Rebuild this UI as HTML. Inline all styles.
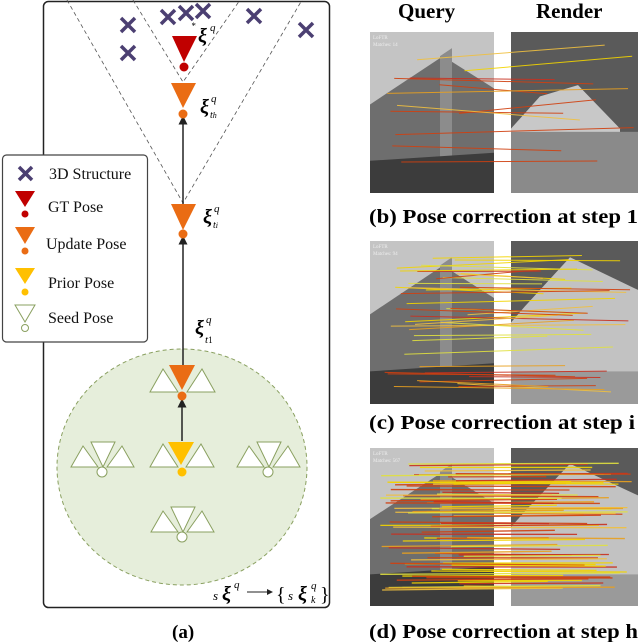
<!DOCTYPE html>
<html><head><meta charset="utf-8"><style>
html,body{margin:0;padding:0;background:#fff;}
svg{display:block;}
text{font-family:"Liberation Serif",serif;}
</style></head><body>
<svg id="s" width="640" height="642" viewBox="0 0 640 642" xmlns="http://www.w3.org/2000/svg">
<defs>
<marker id="ar" markerWidth="6" markerHeight="6" refX="3" refY="3" orient="auto"><path d="M0,0 L6,3 L0,6 z" fill="#222"/></marker>
<g id="fan">
<polygon points="-11,-30 13,-30 1,-5" fill="#fff" stroke="#8aa060" stroke-width="1"/>
<polygon points="-31,-5 -19,-26 -4,-5" fill="#fff" stroke="#8aa060" stroke-width="1"/>
<polygon points="5,-5 20,-26 32,-5" fill="#fff" stroke="#8aa060" stroke-width="1"/>
<circle cx="0" cy="0" r="5" fill="#fff" stroke="#8aa060" stroke-width="1"/>
</g>
</defs>
<rect x="43.5" y="1.5" width="286" height="606" rx="5" fill="#fff" stroke="#222" stroke-width="1.5"/>
<g stroke="#555" stroke-width="0.8" stroke-dasharray="4,3" fill="none">
<path d="M67,0 L183,203 L302,0"/>
<path d="M133,0 L183,82 L240,0"/>
</g>
<g stroke="#4b3f72" stroke-width="3.5">
<path d="M121,18 l14,14 M135,18 l-14,14"/>
<path d="M121,46 l14,14 M135,46 l-14,14"/>
<path d="M161,10 l14,14 M175,10 l-14,14"/>
<path d="M179,6 l14,14 M193,6 l-14,14"/>
<path d="M196,4 l14,14 M210,4 l-14,14"/>
<path d="M247,9 l14,14 M261,9 l-14,14"/>
<path d="M299,23 l14,14 M313,23 l-14,14"/>
</g>
<ellipse cx="182" cy="467" rx="125" ry="118" fill="#e6eedb" stroke="#8aa060" stroke-width="1" stroke-dasharray="4,3"/>
<use href="#fan" x="102" y="472"/>
<use href="#fan" x="268" y="472"/>
<use href="#fan" x="182" y="537"/>
<g fill="#fff" stroke="#8aa060" stroke-width="1">
<polygon points="150,392 163,369 178,392"/><polygon points="187,392 202,369 215,392"/>
<polygon points="150,467 163,444 178,467"/><polygon points="186,467 201,444 214,467"/>
</g>
<g stroke="#222" stroke-width="1.5">
<line x1="183" y1="365" x2="183" y2="240" marker-end="url(#ar)"/>
<line x1="183" y1="204" x2="183" y2="120" marker-end="url(#ar)"/>
<line x1="182" y1="441" x2="182" y2="403" marker-end="url(#ar)"/>
</g>
<polygon points="172,36 197,36 184,62" fill="#c00000"/><circle cx="184" cy="67" r="4.5" fill="#c00000"/>
<polygon points="171,83 196,83 183,108" fill="#ea6c14"/><circle cx="183" cy="114" r="4.5" fill="#ea6c14"/>
<polygon points="171,204 196,204 183,230" fill="#ea6c14"/><circle cx="183" cy="234" r="4.5" fill="#ea6c14"/>
<polygon points="169,365 195,365 182,390" fill="#ea6c14"/><circle cx="182" cy="396" r="4.5" fill="#ea6c14"/>
<polygon points="168,442 194,442 181,465" fill="#ffc000"/><circle cx="182" cy="472" r="4.5" fill="#ffc000"/>
<g font-style="italic" fill="#000">
<text x="191" y="29" font-size="9">*</text>
<text x="198" y="42" font-size="20" font-weight="bold">ξ</text><text x="210" y="31" font-size="11">q</text>
<text x="200" y="113" font-size="20" font-weight="bold">ξ</text><text x="211" y="102" font-size="11">q</text><text x="210" y="118" font-size="10">t<tspan font-size="8">h</tspan></text>
<text x="203" y="223" font-size="20" font-weight="bold">ξ</text><text x="214" y="212" font-size="11">q</text><text x="213" y="228" font-size="10">t<tspan font-size="8">i</tspan></text>
<text x="195" y="334" font-size="20" font-weight="bold">ξ</text><text x="206" y="323" font-size="11">q</text><text x="205" y="343" font-size="11">t<tspan font-size="9" font-style="normal">1</tspan></text>
<text x="213" y="600" font-size="13">s</text><text x="222" y="600" font-size="20" font-weight="bold">ξ</text><text x="234" y="588" font-size="11">q</text>
<text x="276" y="601" font-size="20" font-style="normal">{</text><text x="288" y="600" font-size="13">s</text><text x="298" y="600" font-size="20" font-weight="bold">ξ</text><text x="311" y="589" font-size="11">q</text><text x="311" y="603" font-size="10">k</text><text x="320" y="601" font-size="20" font-style="normal">}</text>
</g>
<line x1="247" y1="592" x2="270" y2="592" stroke="#222" stroke-width="1" marker-end="url(#ar)"/>
<text x="172" y="638" font-size="19" font-weight="bold">(a)</text>
<rect x="2.5" y="155" width="145" height="187" rx="4" fill="#fff" stroke="#444" stroke-width="1.2"/>
<path d="M19,167 l13,13 M32,167 l-13,13" stroke="#4b3f72" stroke-width="3.5"/>
<polygon points="15,191 35,191 25,207" fill="#c00000"/><circle cx="25" cy="214" r="3.5" fill="#c00000"/>
<polygon points="15,227 35,227 25,244" fill="#ea6c14"/><circle cx="25" cy="251" r="3.5" fill="#ea6c14"/>
<polygon points="15,268 35,268 25,284" fill="#ffc000"/><circle cx="25" cy="292" r="3.5" fill="#ffc000"/>
<polygon points="15,305 35,305 25,322" fill="#fff" stroke="#8aa060"/><circle cx="25" cy="328" r="3.5" fill="#fff" stroke="#8aa060"/>
<g font-size="16" fill="#111">
<text x="49" y="179">3D Structure</text>
<text x="48" y="212">GT Pose</text>
<text x="46" y="249">Update Pose</text>
<text x="48" y="288">Prior Pose</text>
<text x="48" y="323">Seed Pose</text>
</g>
<text x="398" y="18" font-size="21" font-weight="bold">Query</text>
<text x="536" y="18" font-size="21" font-weight="bold">Render</text>
<g id="imgs"></g>
<text x="369" y="223" font-size="20" font-weight="bold" textLength="269" lengthAdjust="spacingAndGlyphs">(b) Pose correction at step 1</text>
<text x="369" y="429" font-size="20" font-weight="bold" textLength="266" lengthAdjust="spacingAndGlyphs">(c) Pose correction at step i</text>
<text x="369" y="638" font-size="20" font-weight="bold" textLength="269" lengthAdjust="spacingAndGlyphs">(d) Pose correction at step h</text>
</svg>
<script>
(function(){
var g=document.getElementById('imgs'),ns='http://www.w3.org/2000/svg';
function el(t,a){var e=document.createElementNS(ns,t);for(var k in a)e.setAttribute(k,a[k]);g.appendChild(e);return e;}
var rows=[[32,193,14,12],[241,404,94,40],[448,606,567,80]];
var seed=7;function r(){seed=(seed*9301+49297)%233280;return seed/233280;}
var cols=['#f2d400','#e8a020','#d04010','#f0c040','#c83020','#e0e040'];
rows.forEach(function(R,i){
 var y0=R[0],y1=R[1],h=y1-y0;
 el('rect',{x:370,y:y0,width:124,height:h,fill:'#c4c4c4'});
 el('polygon',{points:[370,y0+h*0.45,443,y0+h*0.15,494,y0+h*0.35,494,y1,370,y1].join(' '),fill:'#6e6e6e'});
 el('polygon',{points:[440,y0+h*0.15,452,y0+h*0.1,452,y1,440,y1].join(' '),fill:'#8c8c8c'});
 el('polygon',{points:[370,y0+h*0.8,494,y0+h*0.75,494,y1,370,y1].join(' '),fill:'#3c3c3c'});
 el('text',{x:373,y:y0+7,'font-size':5,fill:'#eee','font-family':'Liberation Sans'}).textContent='LoFTR';
 el('text',{x:373,y:y0+14,'font-size':5,fill:'#eee','font-family':'Liberation Sans'}).textContent='Matches: '+R[2];
 el('rect',{x:511,y:y0,width:127,height:h,fill:'#5a5a5a'});
 if(i==0){
  el('polygon',{points:[540,y0+h*0.4,578,y0+h*0.33,620,y0+h*0.6,620,y1,511,y1,511,y0+h*0.6].join(' '),fill:'#c8c8c8'});
  el('rect',{x:511,y:y0+h*0.62,width:127,height:h*0.38,fill:'#8a8a8a'});
 } else {
  el('polygon',{points:[525,y0+h*0.4,570,y0+h*0.1,638,y0+h*0.3,638,y1,511,y1,511,y0+h*0.5].join(' '),fill:'#c2c2c2'});
  el('rect',{x:511,y:y0+h*0.8,width:127,height:h*0.2,fill:'#9a9a9a'});
 }
 var n=R[3];
 for(var k=0;k<n;k++){
  var ya=y0+h*(0.1+0.8*r()),yb=ya+(i==2?(r()-0.5)*4:(r()-0.5)*h*(i==0?0.2:0.12));
  el('line',{x1:380+r()*90,y1:ya,x2:540+r()*95,y2:Math.max(y0+5,Math.min(y1-5,yb)),stroke:cols[Math.floor(r()*6)],'stroke-width':i==2?1.3:1,opacity:0.9});
 }
});
})();
</script>
</body></html>
